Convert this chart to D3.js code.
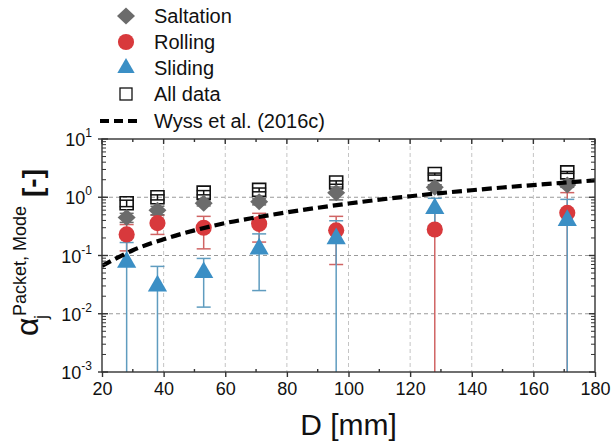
<!DOCTYPE html>
<html><head><meta charset="utf-8">
<script src="https://cdn.jsdelivr.net/npm/d3@7/dist/d3.min.js"></script>
<style>body{margin:0;background:#fff} text{font-family:"Liberation Sans",Arial,sans-serif;fill:#111}</style>
</head><body><svg id="c" width="611" height="444"></svg>
<script>
// ---- data ----
const diameters   = [28, 38, 53, 71, 96, 128, 171];
const saltation   = [0.45, 0.60, 0.79, 0.84, 1.20, 1.49, 1.63];
const saltationErr= [0.08, 0.10, 0.08, 0.10, 0.30, 0.15, 0.15];
const rolling     = [0.23, 0.36, 0.30, 0.35, 0.27, 0.28, 0.54];
const rollingErr  = [0.11, 0.13, 0.17, 0.18, 0.20, 0.30, 0.66];
const sliding     = [0.077, 0.030, 0.051, 0.13, 0.195, 0.64, 0.40];
const slidingErr  = [0.09, 0.035, 0.038, 0.105, 0.20, 0.32, 0.52];
const allData     = [0.79, 1.00, 1.20, 1.34, 1.79, 2.50, 2.67];
const allDataErr  = [0.10, 0.10, 0.10, 0.10, 0.12, 0.10, 0.10];
const wyssD       = [20, 30, 40, 50, 60, 70, 80, 90, 100, 110, 120, 130, 140, 150, 160, 170, 180];
const wyssAlpha   = [0.066, 0.123, 0.19, 0.27, 0.36, 0.45, 0.55, 0.66, 0.78, 0.91, 1.04, 1.18, 1.32, 1.47, 1.62, 1.78, 1.95];
const xTicks      = [20, 40, 60, 80, 100, 120, 140, 160, 180];
const xMinorTicks = [30, 50, 70, 90, 110, 130, 150, 170];
const yTicks      = [1e-3, 1e-2, 1e-1, 1, 10];
const yTickExp    = ["-3", "-2", "-1", "0", "1"];
const legendLabels= ["Saltation", "Rolling", "Sliding", "All data", "Wyss et al. (2016c)"];
const xTitle = "D [mm]";

const svg = d3.select("#c");
const L = 102, R = 595, T = 139, B = 372;
const x = d3.scaleLinear().domain([20, 180]).range([L, R]);
const y = d3.scaleLog().domain([1e-3, 10]).range([B, T]);

const colSalt = "#6b6b6b", colRoll = "#d8393c", colSlide = "#3b8fc5";
const errRoll = "#d06464", errSlide = "#5f9cbf";

// grid
const g = svg.append("g");
g.selectAll(".gx").data(xTicks.slice(1, -1)).join("line")
  .attr("x1", d => x(d)).attr("x2", d => x(d)).attr("y1", T).attr("y2", B)
  .attr("stroke", "#c4c4c4").attr("stroke-width", 1).attr("stroke-dasharray", "4,3");
g.selectAll(".gy").data([1e-2, 1e-1, 1]).join("line")
  .attr("x1", L).attr("x2", R).attr("y1", d => y(d)).attr("y2", d => y(d))
  .attr("stroke", "#9a9a9a").attr("stroke-width", 1).attr("stroke-dasharray", "4,3");

// clip
svg.append("clipPath").attr("id", "clip").append("rect")
  .attr("x", L).attr("y", T).attr("width", R - L).attr("height", B - T);
const plot = svg.append("g").attr("clip-path", "url(#clip)");

function errorBars(vals, errs, color, width) {
  const gg = plot.append("g").attr("stroke", color).attr("stroke-width", width).attr("fill", "none");
  vals.forEach((v, i) => {
    const cx = x(diameters[i]);
    const hi = v + errs[i];
    const lo = v - errs[i];
    const yHi = y(hi);
    const yLo = lo > 0 ? y(lo) : B + 5;
    gg.append("line").attr("x1", cx).attr("x2", cx).attr("y1", yHi).attr("y2", yLo);
    gg.append("line").attr("x1", cx - 7).attr("x2", cx + 7).attr("y1", yHi).attr("y2", yHi);
    if (lo > 0) gg.append("line").attr("x1", cx - 7).attr("x2", cx + 7).attr("y1", yLo).attr("y2", yLo);
  });
}
errorBars(rolling, rollingErr, errRoll, 1.5);
errorBars(sliding, slidingErr, errSlide, 1.5);
errorBars(saltation, saltationErr, colSalt, 1.5);
errorBars(allData, allDataErr, "#111", 1.5);

const diamondPath = "M0,-8.5L9,0L0,8.5L-9,0Z";
const sym = {
  circle: d3.symbol().type(d3.symbolCircle).size(205),
  triangle: d3.symbol().type(d3.symbolTriangle).size(160),
  square: d3.symbol().type(d3.symbolSquare).size(170)
};
function markers(vals, path, fill, stroke) {
  plot.append("g").selectAll("path").data(vals).join("path")
    .attr("d", path)
    .attr("transform", (d, i) => `translate(${x(diameters[i])},${y(d)})`)
    .attr("fill", fill).attr("stroke", stroke || "none").attr("stroke-width", 1.6);
}
markers(allData, sym.square, "none", "#111");
markers(saltation, diamondPath, colSalt);
markers(rolling, sym.circle, colRoll);
markers(sliding, sym.triangle, colSlide);

// Wyss curve
const line = d3.line().x((d, i) => x(wyssD[i])).y(d => y(d)).curve(d3.curveMonotoneX);
plot.append("path").attr("d", line(wyssAlpha)).attr("fill", "none")
  .attr("stroke", "#000").attr("stroke-width", 4.2).attr("stroke-dasharray", "10,5");

// frame + axes
const ax = svg.append("g").attr("stroke", "#333").attr("stroke-width", 1.4);
ax.append("rect").attr("x", L).attr("y", T).attr("width", R - L).attr("height", B - T).attr("fill", "none");

const xa = svg.append("g").attr("transform", `translate(0,${B})`)
  .call(d3.axisBottom(x).tickValues(xTicks).tickSize(5).tickPadding(5).tickFormat(d3.format("d")));
xa.select(".domain").remove();
xa.selectAll("text").attr("font-size", 18).attr("font-family", "Liberation Sans, Arial");
xa.selectAll("line").attr("stroke", "#333").attr("stroke-width", 1.4);
// minor bottom (inward) & top ticks
ax.selectAll(".mb").data(xMinorTicks).join("line")
  .attr("x1", d => x(d)).attr("x2", d => x(d)).attr("y1", B).attr("y2", B - 3);
ax.selectAll(".tt").data(xTicks).join("line")
  .attr("x1", d => x(d)).attr("x2", d => x(d)).attr("y1", T).attr("y2", T + 5);
ax.selectAll(".tm").data(xMinorTicks).join("line")
  .attr("x1", d => x(d)).attr("x2", d => x(d)).attr("y1", T).attr("y2", T + 3);

// y minor ticks
const minor = [];
for (let e = -3; e < 1; e++) for (let k = 2; k <= 9; k++) minor.push(k * Math.pow(10, e));
ax.selectAll(".ml").data(minor).join("line")
  .attr("x1", L).attr("x2", L + 4).attr("y1", d => y(d)).attr("y2", d => y(d)).attr("stroke-width", 1);
ax.selectAll(".mr").data(minor).join("line")
  .attr("x1", R).attr("x2", R - 4).attr("y1", d => y(d)).attr("y2", d => y(d)).attr("stroke-width", 1);
ax.selectAll(".Ml").data(yTicks).join("line")
  .attr("x1", L - 4).attr("x2", L + 6).attr("y1", d => y(d)).attr("y2", d => y(d));
ax.selectAll(".Mr").data(yTicks).join("line")
  .attr("x1", R).attr("x2", R - 6).attr("y1", d => y(d)).attr("y2", d => y(d));

// y tick labels with superscripts
const yl = svg.append("g");
yTicks.forEach((t, i) => {
  const tx = yl.append("text").attr("x", 92).attr("y", y(t) + 7).attr("text-anchor", "end").attr("font-size", 18);
  tx.append("tspan").text("10");
  tx.append("tspan").attr("font-size", 12).attr("dy", -9).text(yTickExp[i]);
});

// axis titles
svg.append("text").attr("x", (L + R) / 2).attr("y", 435).attr("text-anchor", "middle")
  .attr("font-size", 30).text(xTitle);
svg.append("text").attr("transform", "translate(38,336) rotate(-90)").attr("font-size", 32).text("α");
svg.append("text").attr("transform", "translate(26,316) rotate(-90)").attr("font-size", 18).text("Packet, Mode");
svg.append("text").attr("transform", "translate(47,319) rotate(-90)").attr("font-size", 18).text("j");
svg.append("text").attr("transform", "translate(42,197) rotate(-90)").attr("font-size", 28)
  .attr("font-weight", "bold").text("[-]");

// legend
const legY = [16, 42, 68, 94, 121];
const lg = svg.append("g");
lg.append("path").attr("d", diamondPath).attr("transform", `translate(126,${legY[0]})`).attr("fill", colSalt);
lg.append("path").attr("d", sym.circle()).attr("transform", `translate(126,${legY[1]})`).attr("fill", colRoll);
lg.append("path").attr("d", d3.symbol().type(d3.symbolTriangle).size(130)()).attr("transform", `translate(126,${legY[2]})`).attr("fill", colSlide);
lg.append("rect").attr("x", 120).attr("y", legY[3] - 6).attr("width", 12).attr("height", 12)
  .attr("fill", "none").attr("stroke", "#111").attr("stroke-width", 1.3);
lg.append("line").attr("x1", 100).attr("x2", 141).attr("y1", legY[4]).attr("y2", legY[4])
  .attr("stroke", "#000").attr("stroke-width", 4.2).attr("stroke-dasharray", "9,5");
legendLabels.forEach((t, i) => {
  lg.append("text").attr("x", 154).attr("y", legY[i] + 7).attr("font-size", 20).text(t);
});
</script></body></html>
